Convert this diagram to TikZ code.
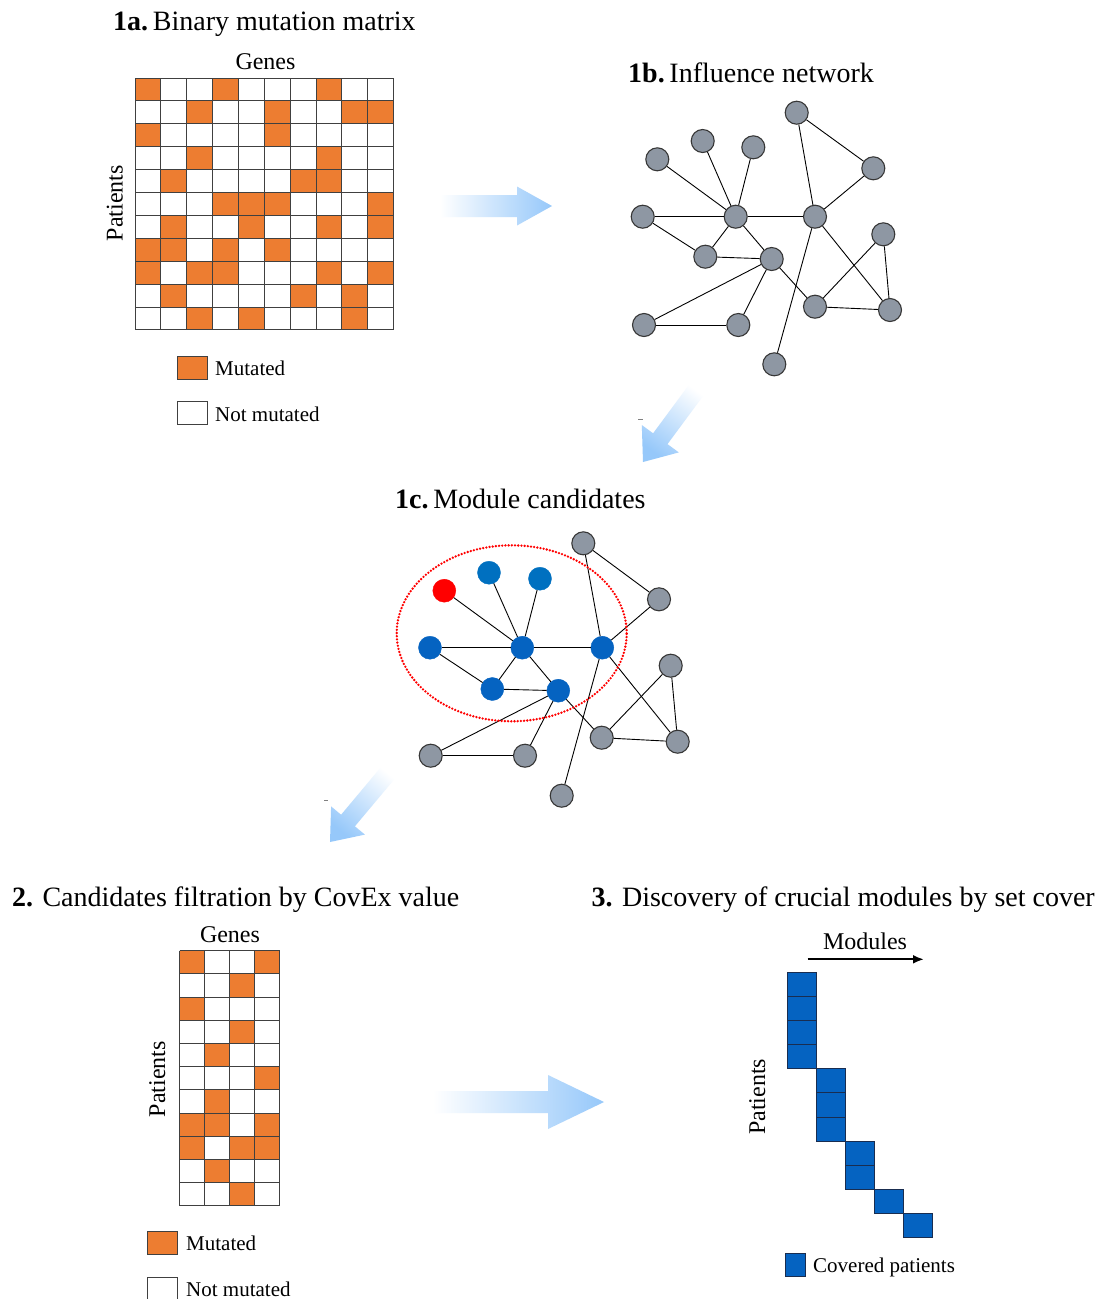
\documentclass[tikz,border=0pt]{standalone}
\usepackage{fontspec}
\setmainfont{Liberation Serif}
\usetikzlibrary{arrows.meta}
\definecolor{orangec}{RGB}{237,125,49}
\definecolor{gridc}{RGB}{64,64,64}
\definecolor{nodegray}{RGB}{142,151,163}
\definecolor{nodeedge}{RGB}{55,55,55}
\definecolor{blueA}{RGB}{0,112,192}
\definecolor{blueB}{RGB}{5,99,193}
\definecolor{arrowblue}{RGB}{150,200,250}
\definecolor{coverblue}{RGB}{5,99,193}
\definecolor{coverline}{RGB}{25,45,80}
\begin{document}
\begin{tikzpicture}[x=1pt,y=-1pt,
 ttl/.style={anchor=base west, inner sep=0pt, font=\fontsize{28}{30}\selectfont},
 lab/.style={inner sep=0pt, font=\fontsize{24}{26}\selectfont},
 leg/.style={anchor=base west, inner sep=0pt, font=\fontsize{21}{23}\selectfont},
 gnode/.style={circle, minimum size=23pt, inner sep=0pt, fill=nodegray, draw=nodeedge, line width=1.1pt},
 bnode/.style={circle, minimum size=23pt, inner sep=0pt, fill=#1, draw=#1},
 link/.style={line width=0.9pt, black},
 gridline/.style={draw=gridc, line width=0.9pt},
 legbox/.style={rectangle, minimum width=30pt, minimum height=23pt, inner sep=0pt, draw=gridc, line width=0.8pt},
 fatarrow/.style={top color=arrowblue, bottom color=white, shading angle=#1},
]
\useasboundingbox (0,0) rectangle (1106,1299);
\fill[white] (0,0) rectangle (1106,1299);

% ---------- 1a ----------
\begin{scope}
\clip (0,0) rectangle (414,50);
\node[ttl] (t1a) at (113,30.7) {{\bfseries 1a.}\,Binary mutation matrix};
\end{scope}
\node[lab, anchor=base] (genesA) at (265.5,69) {Genes};
\node[lab, rotate=90, anchor=base] (patA) at (122.7,203.3) {Patients};
\foreach \r/\cs in {0/{0,3,7},1/{2,5,8,9},2/{0,5},3/{2,7},4/{1,6,7},5/{3,4,5,9},6/{1,4,7,9},7/{0,1,3,5},8/{0,2,3,7,9},9/{1,6,8},10/{2,4,8}}
  \foreach \c in \cs
    \fill[orangec] ({135+\c*25.85},{78+\r*22.9}) rectangle ++(25.85,22.9);
\foreach \i in {0,...,10} \draw[gridline] ({135+\i*25.85},78) -- ++(0,251.9);
\foreach \j in {0,...,11} \draw[gridline] (135,{78+\j*22.9}) -- ++(258.5,0);
\node[legbox, fill=orangec] (legMa) at (192,368) {};
\node[legbox, fill=white] (legNa) at (192,413) {};
\node[leg] (txtMa) at (215,375) {Mutated};
\node[leg] (txtNa) at (215,421) {Not mutated};

% ---------- arrows ----------
\path[fatarrow=-90] (440,195) -- (517,195) -- (517,186.5) -- (552,206) -- (517,225.5) -- (517,217) -- (440,217) -- cycle;
\path[fatarrow=143.5] (707.2,390.4) -- (667.5,444.1) -- (678.8,452.4) -- (643,462) -- (641.8,425.0) -- (653.1,433.3) -- (692.8,379.6) -- cycle;
\path[fatarrow=140] (398.9,773.8) -- (354.9,826.3) -- (364.9,834.6) -- (330,842) -- (331.1,806.4) -- (341.1,814.7) -- (385.1,762.2) -- cycle;
\path[fatarrow=-90] (433,1091) -- (548,1091) -- (548,1075) -- (604,1102) -- (548,1129) -- (548,1113) -- (433,1113) -- cycle;
\draw[gray, line width=0.8pt] (638.3,419.3) -- (642.7,419.3);
\draw[gray, line width=0.8pt] (324.3,800) -- (327.7,800);

% ---------- 1b ----------
\node[ttl] (t1b) at (628,82.5) {{\bfseries 1b.}\,Influence network};
\node[gnode] (b1) at (796.7,112.7) {};
\node[gnode] (b2) at (873.3,168.3) {};
\node[gnode] (b3) at (702.7,141) {};
\node[gnode] (b4) at (753.3,147.3) {};
\node[gnode] (b5) at (657.3,159.3) {};
\node[gnode] (b6) at (642.7,216.7) {};
\node[gnode] (b7) at (735.7,216.7) {};
\node[gnode] (b8) at (815,216.7) {};
\node[gnode] (b9) at (883.3,234.3) {};
\node[gnode] (b10) at (705.3,256.7) {};
\node[gnode] (b11) at (771.7,259) {};
\node[gnode] (b12) at (815,306.7) {};
\node[gnode] (b13) at (890,310) {};
\node[gnode] (b14) at (644,325) {};
\node[gnode] (b15) at (738.3,325) {};
\node[gnode] (b16) at (774.3,364.3) {};
\foreach \a/\b in {1/2,1/8,2/8,3/7,4/7,5/7,6/7,6/10,7/8,7/10,7/11,10/11,11/14,11/15,14/15,11/12,8/16,8/13,9/12,9/13,12/13}
  \draw[link] (b\a) -- (b\b);

% ---------- 1c ----------
\node[ttl] (t1c) at (395,508.5) {{\bfseries 1c.}\,Module candidates};
\node[gnode] (c1) at (583.3,543.3) {};
\node[gnode] (c2) at (659,599.3) {};
\node[bnode=blueA] (c3) at (489,572.7) {};
\node[bnode=blueA] (c4) at (540,578.7) {};
\node[bnode=red] (c5) at (444.3,590.7) {};
\node[bnode=blueB] (c6) at (430,647.7) {};
\node[bnode=blueB] (c7) at (522.3,647.7) {};
\node[bnode=blueB] (c8) at (602.3,647.7) {};
\node[gnode] (c9) at (670.7,665.7) {};
\node[bnode=blueB] (c10) at (492.3,689) {};
\node[bnode=blueB] (c11) at (558.3,690.7) {};
\node[gnode] (c12) at (601.7,737.7) {};
\node[gnode] (c13) at (677.7,741.7) {};
\node[gnode] (c14) at (430.7,755.7) {};
\node[gnode] (c15) at (525,755.7) {};
\node[gnode] (c16) at (561.7,795.7) {};
\foreach \a/\b in {1/2,1/8,2/8,3/7,4/7,5/7,6/7,6/10,7/8,7/10,7/11,10/11,11/14,11/15,14/15,11/12,8/16,8/13,9/12,9/13,12/13}
  \draw[link] (c\a) -- (c\b);
\draw[red, line width=2.6pt, dash pattern=on 0pt off 3.2pt, line cap=round] (511.7,633.3) ellipse [x radius=115pt, y radius=88pt];

% ---------- 2 ----------
\node[ttl] (t2) at (12,906) {{\bfseries 2.} Candidates filtration by CovEx value};
\node[lab, anchor=base] (genesB) at (230,942) {Genes};
\node[lab, rotate=90, anchor=base] (patB) at (165,1079) {Patients};
\foreach \r/\cs in {0/{0,3},1/{2},2/{0},3/{2},4/{1},5/{3},6/{1},7/{0,1,3},8/{0,2,3},9/{1},10/{2}}
  \foreach \c in \cs
    \fill[orangec] ({179.5+\c*25},{950.7+\r*23.2}) rectangle ++(25,23.2);
\foreach \i in {0,...,4} \draw[gridline] ({179.5+\i*25},950.7) -- ++(0,255.2);
\foreach \j in {0,...,11} \draw[gridline] (179.5,{950.7+\j*23.2}) -- ++(100,0);
\node[legbox, fill=orangec] (legMb) at (162,1243) {};
\node[legbox, fill=white] (legNb) at (162,1288.5) {};
\node[leg] (txtMb) at (186,1250) {Mutated};
\node[leg] (txtNb) at (186,1296) {Not mutated};

% ---------- 3 ----------
\node[ttl] (t3) at (591.5,906) {{\bfseries 3.} Discovery of crucial modules by set cover};
\node[lab, anchor=base] (modl) at (865,949.3) {Modules};
\coordinate (modA) at (807.7,959.3);
\coordinate (modB) at (924,959.3);
\draw[line width=2.2pt, -{Latex[length=11pt,width=9pt]}] (modA) -- (modB);
\node[lab, rotate=90, anchor=base] (patC) at (765,1096.7) {Patients};
\foreach \c/\r in {0/0,0/1,0/2,0/3,1/4,1/5,1/6,2/7,2/8,3/9,4/10}
  \filldraw[fill=coverblue, draw=coverline, line width=0.7pt] ({787.7+\c*29},{972.3+\r*24.1}) rectangle ++(29,24.1);
\node[rectangle, minimum width=20pt, minimum height=23pt, inner sep=0pt, fill=coverblue, draw=coverline, line width=0.7pt] (legC) at (795,1264.5) {};
\node[leg] (txtC) at (813,1272) {Covered patients};
\end{tikzpicture}
\end{document}
